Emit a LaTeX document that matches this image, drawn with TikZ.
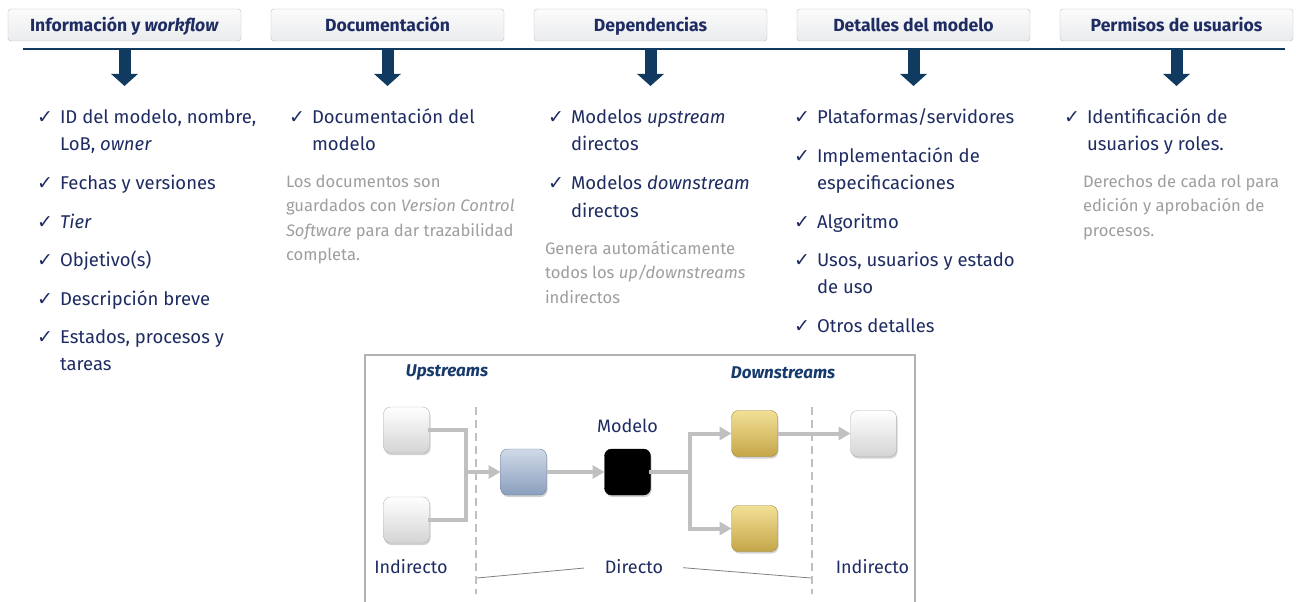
\documentclass[tikz,border=0pt]{standalone}
\usepackage{fontspec}
\setmainfont{Fira Sans}
\newfontfamily\symfont{DejaVu Sans}
\usepackage{xcolor}
\usetikzlibrary{positioning, arrows.meta, shadows}

\definecolor{navytext}{RGB}{30,44,98}
\definecolor{navyline}{RGB}{16,58,96}
\definecolor{upblue}{RGB}{22,58,108}
\definecolor{notegray}{RGB}{158,158,158}
\definecolor{conngray}{RGB}{192,192,192}
\definecolor{framegray}{RGB}{178,178,178}
\definecolor{tabfill}{RGB}{234,235,238}
\definecolor{tabdraw}{RGB}{190,191,196}
\definecolor{bluetop}{RGB}{208,218,232}
\definecolor{bluebot}{RGB}{138,158,190}
\definecolor{goldtop}{RGB}{242,224,150}
\definecolor{goldbot}{RGB}{196,166,72}
\definecolor{whitebot}{RGB}{212,212,212}

\newcommand{\chk}{\makebox[23pt][l]{\symfont\fontsize{19}{19}\selectfont ✓}}

\begin{document}
\begin{tikzpicture}[
        x=1pt, y=-1pt,
        every node/.style={inner sep=0pt, outer sep=0pt},
        tab/.style={draw=tabdraw, rounded corners=3pt, top color=white!97!gray, bottom color=tabfill, minimum width=233pt, minimum height=32pt, text height=14pt, text depth=0pt, font=\fontsize{17.6}{19}\selectfont\bfseries, text=navytext},
        bigarrow/.style={navyline, line width=12pt, -{Triangle[length=12pt, width=26pt]}},
        list/.style={anchor=base west, text=navytext, font=\fontsize{18.5}{27.5}\selectfont},
        note/.style={anchor=base west, align=left, text=notegray, font=\fontsize{16.6}{24.5}\selectfont},
        mbox/.style={draw, rounded corners=7pt, minimum size=46pt, drop shadow={opacity=0.35, shadow xshift=1pt, shadow yshift=-2pt}},
        whitebox/.style={draw=gray!60, top color=white, bottom color=whitebot},
        bluebox/.style={draw=bluebot!80!black, top color=bluetop, bottom color=bluebot},
        goldbox/.style={draw=goldbot!80!black, top color=goldtop, bottom color=goldbot},
        blackbox/.style={draw=black, fill=black},
        sectlab/.style={text=upblue, font=\fontsize{17}{20}\selectfont\bfseries\itshape},
        lab/.style={text=navytext, font=\fontsize{18}{20}\selectfont},
        conn/.style={conngray, line width=4pt, -{Triangle[length=12pt, width=13pt]}},
        wire/.style={conngray, line width=4pt, line cap=rect},
        divider/.style={conngray, line width=2pt, dash pattern=on 8pt off 5pt},
        guide/.style={gray, line width=0.8pt}
    ]

    \useasboundingbox[fill=white] (0,0) rectangle (1296,602);

    % header tabs
    \node[tab] (tab1) at (124.5,25) {Información y \textit{workflow}};
    \node[tab, right=30pt of tab1] (tab2) {Documentación};
    \node[tab, right=30pt of tab2] (tab3) {Dependencias};
    \node[tab, right=30pt of tab3] (tab4) {Detalles del modelo};
    \node[tab, right=30pt of tab4] (tab5) {Permisos de usuarios};

    \coordinate (ruleL) at (23,49.5);
    \coordinate (ruleR) at (1285,49.5);
    \draw[navyline, line width=2pt] (ruleL) -- (ruleR);

    \draw[bigarrow] ([yshift=-9pt]tab1.south) -- ++(0,36);
    \draw[bigarrow] ([yshift=-9pt]tab2.south) -- ++(0,36);
    \draw[bigarrow] ([yshift=-9pt]tab3.south) -- ++(0,36);
    \draw[bigarrow] ([yshift=-9pt]tab4.south) -- ++(0,36);
    \draw[bigarrow] ([yshift=-9pt]tab5.south) -- ++(0,36);

    % lists
    \node[list] (info) at (37,123.5) {\begin{tabular}[t]{@{}l@{}l@{}}
        \chk & ID del modelo, nombre,\\
             & LoB, \textit{owner}\\[11pt]
        \chk & Fechas y versiones\\[11pt]
        \chk & \textit{Tier}\\[11pt]
        \chk & Objetivo(s)\\[11pt]
        \chk & Descripción breve\\[11pt]
        \chk & Estados, procesos y\\
             & tareas
    \end{tabular}};
    \node[list] (docu) at (289,123.5) {\begin{tabular}[t]{@{}l@{}l@{}}
        \chk & Documentación del\\
             & modelo
    \end{tabular}};
    \node[list] (deps) at (548,123.5) {\begin{tabular}[t]{@{}l@{}l@{}}
        \chk & Modelos \textit{upstream}\\
             & directos\\[11pt]
        \chk & Modelos \textit{downstream}\\
             & directos
    \end{tabular}};
    \node[list] (detail) at (794,123.5) {\begin{tabular}[t]{@{}l@{}l@{}}
        \chk & Plataformas/servidores\\[11pt]
        \chk & Implementación de\\
             & especificaciones\\[11pt]
        \chk & Algoritmo\\[11pt]
        \chk & Usos, usuarios y estado\\
             & de uso\\[11pt]
        \chk & Otros detalles
    \end{tabular}};
    \node[list] (perm) at (1064,123.5) {\begin{tabular}[t]{@{}l@{}l@{}}
        \chk & Identificación de\\
             & usuarios y roles.
    \end{tabular}};

    % notes (anchored on their last line)
    \node[note] (docunote) at (286,260.5) {Los documentos son\\guardados con \textit{Version Control}\\\textit{Software} para dar trazabilidad\\completa.};
    \node[note] (depsnote) at (545,303) {Genera automáticamente\\todos los \textit{up/downstreams}\\indirectos};
    \node[note] (permnote) at (1083,236) {Derechos de cada rol para\\edición y aprobación de\\procesos.};

    % dependency diagram
    \draw[framegray, line width=1.5pt] (365,603) |- (915,355) -- (915,603);

    \node[sectlab] (uplab) at (447,373) {Upstreams};
    \node[sectlab] (downlab) at (783,373) {Downstreams};

    \coordinate (dupT) at (476,407);
    \coordinate (dupB) at (476,594);
    \coordinate (ddownT) at (812,407);
    \coordinate (ddownB) at (812,594);
    \draw[divider] (dupT) -- (dupB);
    \draw[divider] (ddownT) -- (ddownB);

    \node[mbox, whitebox] (up1) at (406.5,430) {};
    \node[mbox, whitebox, below=44pt of up1] (up2) {};
    \node[mbox, bluebox] (dirup) at (523.5,472) {};
    \node[mbox, blackbox, right=58pt of dirup] (modelo) {};
    \node[mbox, goldbox] (down1) at (754.5,433.5) {};
    \node[mbox, goldbox, below=49pt of down1] (down2) {};
    \node[mbox, whitebox, right=73pt of down1] (indown) {};

    \node[lab, above=16pt of modelo] (modlab) {Modelo};

    \coordinate (jup) at (466,472);
    \coordinate (jdown) at (690,472);
    \draw[wire] (up1.east) -| (jup);
    \draw[wire] (up2.east) -| (jup);
    \draw[conn] (jup) -- (dirup.west);
    \draw[conn] (dirup) -- (modelo);
    \draw[wire] (modelo.east) -- (jdown);
    \draw[conn] (jdown) |- (down1.west);
    \draw[conn] (jdown) |- (down2.west);
    \draw[conn] (down1) -- (indown);

    \node[lab, anchor=base] (indlabL) at (411,573) {Indirecto};
    \node[lab, anchor=base] (dirlab) at (634,573) {Directo};
    \node[lab, anchor=base] (indlabR) at (872.5,573) {Indirecto};

    \coordinate (upfoot) at (477,578);
    \coordinate (downfoot) at (811,578);
    \draw[guide, shorten <=21pt] (dirlab.west) -- (upfoot);
    \draw[guide, shorten <=20pt] (dirlab.east) -- (downfoot);

\end{tikzpicture}
\end{document}
